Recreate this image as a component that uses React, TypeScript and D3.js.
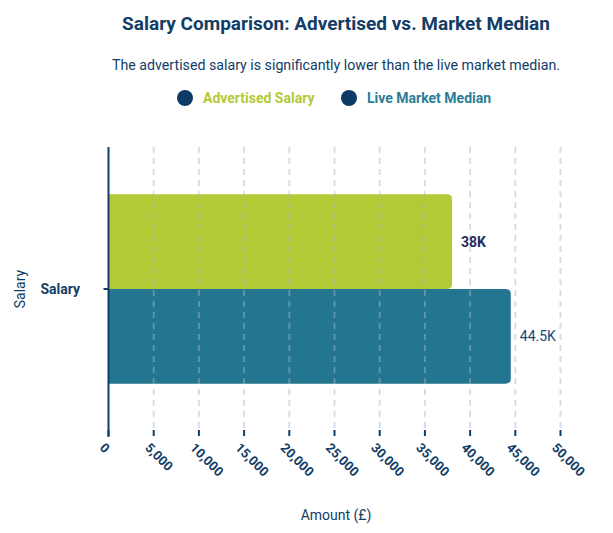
import * as d3 from "d3";

const categories = ["Salary"];
const seriesNames = ["Advertised Salary", "Live Market Median"];
const seriesValues = [38000, 44500];
const valueLabels = ["38K", "44.5K"];
const seriesColors = ["#b4c936", "#24758f"];
const legendTextColors = ["#b4c936", "#2b7d95"];
const xTicks = [0, 5000, 10000, 15000, 20000, 25000, 30000, 35000, 40000, 45000, 50000];

const width = 613;
const height = 533;
const navy = "#123d66";
const font = "Roboto, 'Noto Sans', sans-serif";

// right-rounded bar, square on the axis side
function barPath(x0: number, x1: number, y0: number, y1: number, r: number) {
  const p = d3.path();
  p.moveTo(x0, y0);
  p.lineTo(x1 - r, y0);
  p.quadraticCurveTo(x1, y0, x1, y0 + r);
  p.lineTo(x1, y1 - r);
  p.quadraticCurveTo(x1, y1, x1 - r, y1);
  p.lineTo(x0, y1);
  p.closePath();
  return p.toString();
}

export default function App() {
  const x = d3.scaleLinear().domain([0, 50000]).range([108.5, 560.5]);
  const y = d3.scaleBand().domain(categories).range([147, 431]).padding(0.2);
  const ySub = d3.scaleBand().domain(seriesNames).range([0, y.bandwidth()]);
  const plotTop = 147;
  const plotBottom = 431;
  const fmt = d3.format(",");

  const legendPos = [
    { cx: 185, tx: 203 },
    { cx: 349, tx: 367 },
  ];

  return (
    <div style={{ position: "absolute", left: 0, top: 0 }}>
      <svg width={width} height={height} style={{ display: "block", fontFamily: font }}>
        <rect width={width} height={height} fill="#fff" />

        <text x={336} y={30} textAnchor="middle" fontSize={19} fontWeight="bold" fill={navy}>
          Salary Comparison: Advertised vs. Market Median
        </text>
        <text x={336} y={70} textAnchor="middle" fontSize={14.2} fill={navy}>
          The advertised salary is significantly lower than the live market median.
        </text>

        {seriesNames.map((s, i) => (
          <g key={s}>
            <circle cx={legendPos[i].cx} cy={98} r={8} fill="#0d3a66" />
            <text x={legendPos[i].tx} y={103} fontSize={14} fontWeight="bold" fill={legendTextColors[i]}>
              {s}
            </text>
          </g>
        ))}

        {categories.map((c) => (
          <g key={c}>
            {seriesNames.map((s, i) => {
              const y0 = (y(c) ?? 0) + (ySub(s) ?? 0);
              const y1 = y0 + ySub.bandwidth();
              return (
                <path
                  key={s}
                  d={barPath(x(0), x(seriesValues[i]), y0, y1, 5)}
                  fill={seriesColors[i]}
                />
              );
            })}
          </g>
        ))}

        {xTicks.slice(1).map((t) => (
          <line
            key={t}
            x1={x(t)}
            x2={x(t)}
            y1={plotTop}
            y2={plotBottom}
            stroke="#a3b8cf"
            strokeOpacity={0.45}
            strokeWidth={2}
            strokeDasharray="6,5"
          />
        ))}

        {categories.map((c) =>
          seriesNames.map((s, i) => {
            const cy = (y(c) ?? 0) + (ySub(s) ?? 0) + ySub.bandwidth() / 2;
            return (
              <text
                key={s}
                x={x(seriesValues[i]) + 9}
                y={cy}
                dy="0.35em"
                fontSize={14}
                fontWeight={i === 0 ? "bold" : "normal"}
                fill={i === 0 ? "#262b5c" : "#174a74"}
              >
                {valueLabels[i]}
              </text>
            );
          })
        )}

        {/* y axis */}
        <line x1={x(0)} x2={x(0)} y1={plotTop} y2={437} stroke={navy} strokeWidth={2} />
        {categories.map((c) => {
          const cy = (y(c) ?? 0) + y.bandwidth() / 2;
          return (
            <g key={c}>
              <line x1={x(0) - 5} x2={x(0)} y1={cy} y2={cy} stroke={navy} strokeWidth={2} />
              <text x={80} y={cy} dy="0.35em" textAnchor="end" fontSize={14} fontWeight="bold" fill={navy}>
                {c}
              </text>
            </g>
          );
        })}

        {/* x axis ticks */}
        {xTicks.map((t) => (
          <g key={t} transform={`translate(${x(t)},0)`}>
            <line y1={430} y2={436} stroke={navy} strokeWidth={2} />
            <text
              transform="translate(-3,442) rotate(45)"
              fontSize={13}
              fontWeight="bold"
              fill={navy}
              dy="0.71em"
            >
              {fmt(t)}
            </text>
          </g>
        ))}

        <text x={336} y={520} textAnchor="middle" fontSize={14} fill={navy}>
          Amount (£)
        </text>
        <text
          transform="translate(25,289) rotate(-90)"
          textAnchor="middle"
          fontSize={14}
          fill={navy}
        >
          Salary
        </text>
      </svg>
    </div>
  );
}
